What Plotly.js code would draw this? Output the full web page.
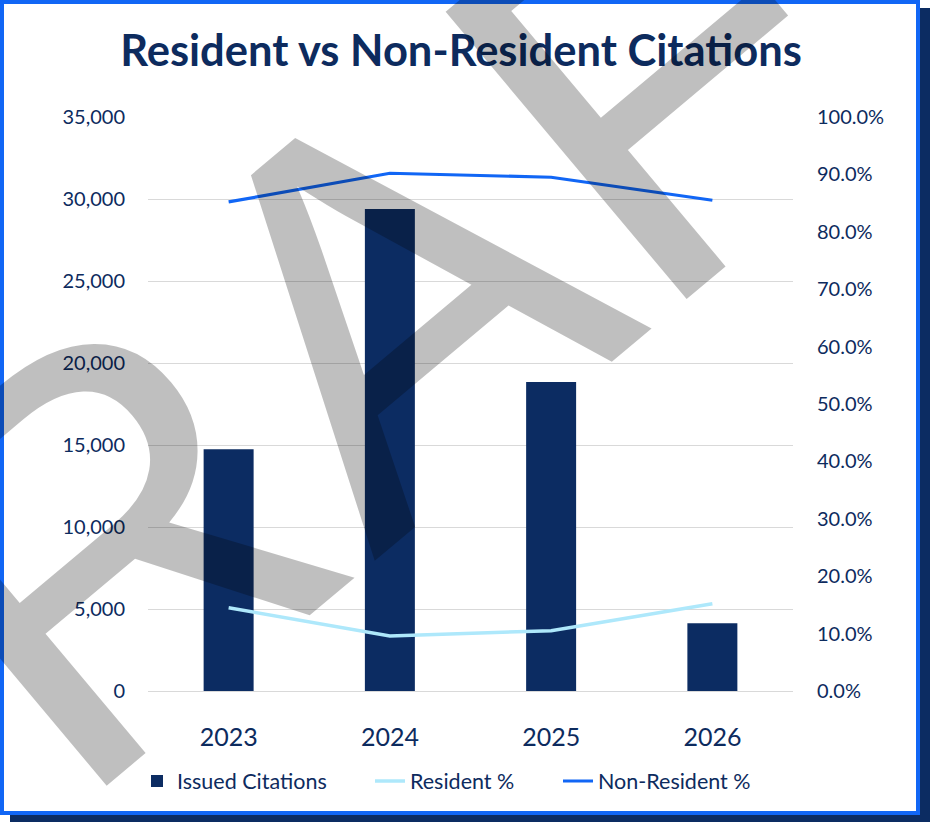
<!DOCTYPE html>
<html>
<head>
<meta charset="utf-8">
<script src="https://cdn.plot.ly/plotly-3.0.1.min.js"></script>
<style>
  html, body { margin: 0; padding: 0; background: #ffffff; }
  #chart { width: 930px; height: 822px; }
</style>
</head>
<body>
<div id="chart"></div>
<script>
// ---- data ----
const years = ['2023', '2024', '2025', '2026'];
const issuedCitations = [14740, 29390, 18840, 4130];
const residentPct = [14.5, 9.6, 10.5, 15.2];
const nonResidentPct = [85.2, 90.2, 89.5, 85.5];
const seriesNames = ['Issued Citations', 'Resident %', 'Non-Resident %'];
const chartTitle = 'Resident vs Non-Resident Citations';
const watermarkText = 'DRAFT';

// ---- layout geometry helpers ----
const W = 930, H = 822;
const M = { l: 148, r: 137, t: 117, b: 131 };
const PW = W - M.l - M.r, PH = H - M.t - M.b;
const px = v => (v - M.l) / PW;
const py = v => (H - M.b - v) / PH;

const navy = '#0c2c62';
const textNavy = '#0d2b5e';
const blue = '#1166f5';
const font = 'Lato, "Open Sans", sans-serif';
const legendFont = { family: font, size: 21.5, color: textNavy };

const traces = [
  {
    type: 'bar', x: years, y: issuedCitations, name: seriesNames[0],
    marker: { color: navy, line: { width: 0 } }, width: 0.31,
    hoverinfo: 'skip', legend: 'legend'
  },
  {
    type: 'scatter', mode: 'lines', x: years, y: residentPct, name: seriesNames[1],
    yaxis: 'y2', line: { color: '#aee8fb', width: 3.5 }, hoverinfo: 'skip', legend: 'legend2'
  },
  {
    type: 'scatter', mode: 'lines', x: years, y: nonResidentPct, name: seriesNames[2],
    yaxis: 'y2', line: { color: blue, width: 3.2 }, hoverinfo: 'skip', legend: 'legend3'
  }
];

function legendAt(left) {
  return {
    orientation: 'h', x: px(left), xanchor: 'left', y: py(781), yanchor: 'middle',
    font: legendFont, bgcolor: 'rgba(0,0,0,0)', itemwidth: 30
  };
}

const layout = {
  width: W, height: H,
  margin: M,
  paper_bgcolor: '#ffffff',
  plot_bgcolor: 'rgba(0,0,0,0)',
  font: { family: font, color: textNavy, size: 20 },
  title: {
    text: '<b>' + chartTitle + '</b>',
    font: { family: font, size: 43.5, color: textNavy },
    x: 461 / W, xref: 'container', xanchor: 'center',
    y: 1 - 51 / H, yref: 'container', yanchor: 'middle'
  },
  showlegend: true,
  legend: legendAt(137),
  legend2: legendAt(370),
  legend3: legendAt(558),
  xaxis: {
    type: 'category', range: [-0.5, 3.5], showgrid: false, zeroline: false, showline: false,
    ticks: 'outside', ticklen: 24, tickcolor: 'rgba(0,0,0,0)',
    tickfont: { family: font, size: 25, color: textNavy }, fixedrange: true
  },
  yaxis: {
    range: [0, 35000], dtick: 5000, tickformat: ',d',
    showgrid: true, gridcolor: '#d9d9d9', gridwidth: 1,
    zeroline: true, zerolinecolor: '#d9d9d9', zerolinewidth: 1, showline: false,
    ticks: 'outside', ticklen: 18, tickcolor: 'rgba(0,0,0,0)',
    tickfont: { family: font, size: 20, color: textNavy }, fixedrange: true
  },
  yaxis2: {
    overlaying: 'y', side: 'right', range: [0, 100], dtick: 10,
    tickformat: '.1f', ticksuffix: '%', showgrid: false, zeroline: false, showline: false,
    ticks: 'outside', ticklen: 19, tickcolor: 'rgba(0,0,0,0)',
    tickfont: { family: font, size: 20, color: textNavy }, fixedrange: true
  },
  bargap: 0.69,
  shapes: [
    // drop shadow of the frame
    { type: 'rect', xref: 'paper', yref: 'paper', layer: 'below',
      x0: px(10), x1: px(932), y0: py(8), y1: py(824),
      fillcolor: navy, line: { width: 0 } },
    // white card with blue border
    { type: 'rect', xref: 'paper', yref: 'paper', layer: 'below',
      x0: px(2), x1: px(918), y0: py(2), y1: py(813),
      fillcolor: '#ffffff', line: { color: blue, width: 4 } }
  ],
  annotations: [
    { text: watermarkText, xref: 'paper', yref: 'paper',
      x: px(345), y: py(339), xanchor: 'center', yanchor: 'middle',
      showarrow: false, textangle: -40,
      font: { family: '"Liberation Sans", Arial, sans-serif', size: 545, color: 'rgba(0,0,0,0.25)' } }
  ]
};

Plotly.newPlot('chart', traces, layout, { displayModeBar: false, staticPlot: true });
</script>
</body>
</html>
